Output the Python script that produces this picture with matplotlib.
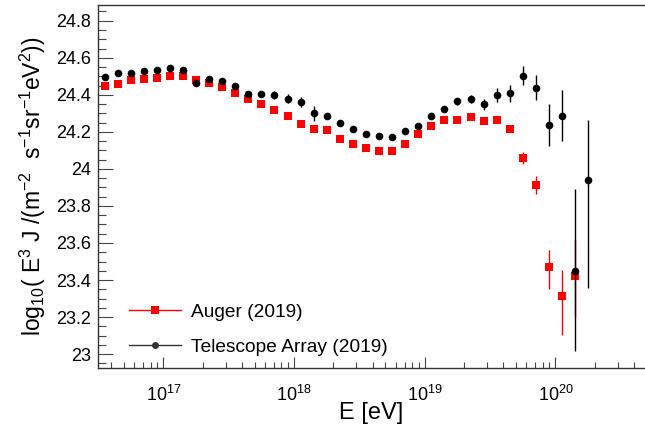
import numpy as np
import matplotlib
matplotlib.use("Agg")
import matplotlib.pyplot as plt
from matplotlib.lines import Line2D
from matplotlib.ticker import LogLocator, MultipleLocator, NullFormatter, FuncFormatter

plt.rcParams['font.family'] = ['Liberation Sans', 'DejaVu Sans']
plt.rcParams['mathtext.fontset'] = 'custom'
plt.rcParams['mathtext.rm'] = 'Liberation Sans'
plt.rcParams['mathtext.it'] = 'Liberation Sans:italic'
plt.rcParams['mathtext.bf'] = 'Liberation Sans:bold'

# ---- data (log10 of energy in eV, log10 of E^3 J) ----
ta_logE = [16.55, 16.65, 16.75, 16.85, 16.95, 17.05, 17.15, 17.25, 17.35, 17.45,
           17.55, 17.65, 17.75, 17.85, 17.95, 18.05, 18.15, 18.25, 18.35, 18.45,
           18.55, 18.65, 18.75, 18.85, 18.95, 19.05, 19.15, 19.25, 19.35, 19.45,
           19.55, 19.65, 19.75, 19.85, 19.95, 20.05, 20.15, 20.25]
ta_val = [24.495, 24.518, 24.518, 24.531, 24.534, 24.543, 24.534, 24.464, 24.488, 24.472,
          24.446, 24.405, 24.405, 24.398, 24.380, 24.362, 24.301, 24.284, 24.248, 24.216,
          24.186, 24.176, 24.173, 24.207, 24.232, 24.284, 24.322, 24.365, 24.378, 24.349,
          24.399, 24.408, 24.504, 24.439, 24.236, 24.288, 23.450, 23.939]
ta_err_lo = [0.005, 0.005, 0.005, 0.005, 0.005, 0.005, 0.005, 0.005, 0.008, 0.010,
             0.010, 0.010, 0.014, 0.020, 0.023, 0.027, 0.040, 0.010, 0.008, 0.008,
             0.006, 0.006, 0.006, 0.006, 0.006, 0.008, 0.012, 0.018, 0.023, 0.029,
             0.037, 0.046, 0.052, 0.067, 0.113, 0.140, 0.434, 0.583]
ta_err_hi = [0.005, 0.005, 0.005, 0.005, 0.005, 0.005, 0.005, 0.005, 0.008, 0.010,
             0.010, 0.010, 0.014, 0.020, 0.023, 0.027, 0.040, 0.010, 0.008, 0.008,
             0.006, 0.006, 0.006, 0.006, 0.006, 0.008, 0.012, 0.018, 0.023, 0.029,
             0.037, 0.046, 0.052, 0.067, 0.113, 0.140, 0.440, 0.324]

auger_logE = [16.55, 16.65, 16.75, 16.85, 16.95, 17.05, 17.15, 17.25, 17.35, 17.45,
              17.55, 17.65, 17.75, 17.85, 17.95, 18.05, 18.15, 18.25, 18.35, 18.45,
              18.55, 18.65, 18.75, 18.85, 18.95, 19.05, 19.15, 19.25, 19.35, 19.45,
              19.55, 19.65, 19.75, 19.85, 19.95, 20.05, 20.15]
auger_val = [24.445, 24.457, 24.480, 24.484, 24.493, 24.500, 24.502, 24.482, 24.462, 24.441,
             24.410, 24.380, 24.348, 24.317, 24.286, 24.245, 24.218, 24.209, 24.162, 24.137,
             24.115, 24.096, 24.097, 24.137, 24.187, 24.230, 24.264, 24.264, 24.278, 24.259,
             24.264, 24.216, 24.058, 23.912, 23.468, 23.313, 23.421]
auger_err_lo = [0.004, 0.004, 0.004, 0.004, 0.004, 0.004, 0.004, 0.004, 0.004, 0.004,
                0.004, 0.004, 0.004, 0.004, 0.004, 0.004, 0.004, 0.004, 0.004, 0.004,
                0.004, 0.004, 0.004, 0.004, 0.005, 0.005, 0.006, 0.006, 0.006, 0.008,
                0.010, 0.016, 0.033, 0.049, 0.119, 0.212, 0.221]
auger_err_hi = [0.004, 0.004, 0.004, 0.004, 0.004, 0.004, 0.004, 0.004, 0.004, 0.004,
                0.004, 0.004, 0.004, 0.004, 0.004, 0.004, 0.004, 0.004, 0.004, 0.004,
                0.004, 0.004, 0.004, 0.004, 0.005, 0.005, 0.006, 0.006, 0.006, 0.008,
                0.010, 0.016, 0.033, 0.049, 0.093, 0.140, 0.198]

legend_labels = ["Auger (2019)", "Telescope Array (2019)"]

ta_E = 10.0 ** np.array(ta_logE)
auger_E = 10.0 ** np.array(auger_logE)

fig = plt.figure(figsize=(6.45, 4.28), dpi=100)
ax = fig.add_axes([98 / 645, 1 - 368 / 428, 1 - 98 / 645, (368 - 5) / 428])

ax.errorbar(ta_E, ta_val, yerr=[ta_err_lo, ta_err_hi], fmt='o', color='black',
            ms=5.5, mew=0, elinewidth=1.0, capsize=2.0, capthick=1.0, zorder=3)
ax.errorbar(auger_E, auger_val, yerr=[auger_err_lo, auger_err_hi], fmt='s', color='#ff0000',
            ms=5.5, mew=0, elinewidth=1.0, capsize=2.0, capthick=1.0, zorder=2)

ax.set_xscale('log')
ax.set_xlim(10 ** 16.5, 10 ** 20.685)
ax.set_ylim(22.925, 24.885)

ax.yaxis.set_major_locator(MultipleLocator(0.2))
ax.yaxis.set_minor_locator(MultipleLocator(0.05))
ax.yaxis.set_major_formatter(FuncFormatter(lambda v, p: ('%.1f' % v).rstrip('0').rstrip('.')))
ax.xaxis.set_major_locator(LogLocator(base=10, numticks=20))
ax.xaxis.set_minor_locator(LogLocator(base=10, subs=np.arange(2, 10), numticks=100))
ax.xaxis.set_minor_formatter(NullFormatter())

ax.tick_params(axis='y', which='major', direction='in', length=10.8, width=0.8,
               labelsize=13, pad=5, color='#444444')
ax.tick_params(axis='y', which='minor', direction='in', length=5.5, width=0.8, color='#444444')
ax.tick_params(axis='x', which='major', direction='in', length=8, width=0.8,
               labelsize=13, pad=12, color='#444444')
ax.tick_params(axis='x', which='minor', direction='in', length=4, width=0.8, color='#444444')

for s in ['left', 'bottom', 'top']:
    ax.spines[s].set_linewidth(1.0)
    ax.spines[s].set_color('#333333')
ax.spines['right'].set_visible(False)

ax.set_xlabel('E [eV]', fontsize=17, labelpad=-2)
ax.set_ylabel(r'log$_{10}$( E$^{3}$ J /(m$^{-2}$  s$^{-1}$sr$^{-1}$eV$^{2}$))', fontsize=16.5, labelpad=6)

handles = [Line2D([], [], color='#ff0000', marker='s', ms=5.5, mew=0, lw=1.0),
           Line2D([], [], color='#333333', marker='o', ms=5, mew=0, lw=1.0)]
ax.legend(handles, legend_labels, loc='lower left', bbox_to_anchor=(0.026, -0.014),
          frameon=False, fontsize=13.8, handlelength=2.7, handletextpad=0.5,
          labelspacing=0.9)

fig.savefig('out.png', dpi=100)
